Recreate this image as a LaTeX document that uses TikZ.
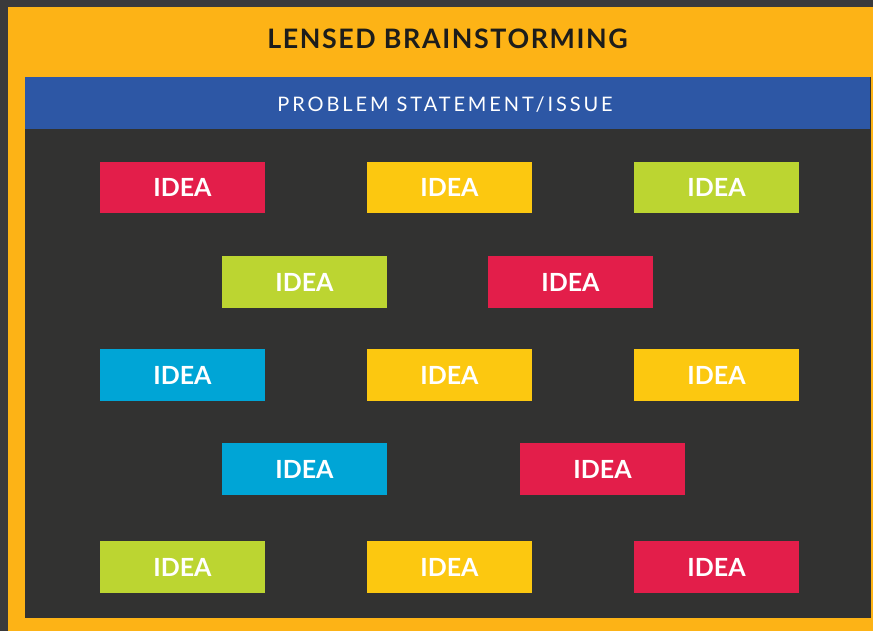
\documentclass[tikz,border=0pt]{standalone}
\usepackage{fontspec}
\setmainfont{Lato}
\newfontfamily\titlefont[LetterSpace=6]{Lato Bold}
\newfontfamily\ideafont{Lato Bold}
\newfontfamily\spaced[LetterSpace=14.5]{Lato}
\definecolor{outerbg}{HTML}{3A3A3C}
\definecolor{frameorange}{HTML}{FDB316}
\definecolor{barblue}{HTML}{2D57A5}
\definecolor{panel}{HTML}{323231}
\definecolor{ired}{HTML}{E31E4A}
\definecolor{iyellow}{HTML}{FCC810}
\definecolor{igreen}{HTML}{BCD531}
\definecolor{iblue}{HTML}{00A5D6}
\definecolor{titleink}{HTML}{1D1D1B}
\tikzset{
  ideabox/.style={fill=#1, draw=none, minimum width=165pt, minimum height=51.5pt,
    inner sep=0pt, text=white, font=\ideafont\fontsize{25}{25}\selectfont, anchor=center},
}
\begin{document}
\begin{tikzpicture}[x=1pt,y=-1pt]
\useasboundingbox (0,0) rectangle (873,631);
\fill[outerbg] (0,0) rectangle (873,631);
\fill[frameorange] (8,7) rectangle (873,631);
\fill[panel] (25,77) rectangle (871,618);
\fill[barblue] (25,77) rectangle (870,129);
\node[text=titleink, font=\titlefont\fontsize{26.8}{26.8}\selectfont, anchor=center, inner sep=0pt] (title) at (447.5,39) {LENSED BRAINSTORMING};
\node[text=white, font=\spaced\fontsize{20}{20}\selectfont, anchor=center, inner sep=0pt] (problem) at (445,104.5) {PROBLEM STATEMENT/ISSUE};
% row 1
\node[ideabox=ired] (i11) at (182.5,187.5) {IDEA};
\node[ideabox=iyellow] (i12) at (449.5,187.5) {IDEA};
\node[ideabox=igreen] (i13) at (716.5,187.5) {IDEA};
% row 2
\node[ideabox=igreen] (i21) at (304.5,282) {IDEA};
\node[ideabox=ired] (i22) at (570.5,282) {IDEA};
% row 3
\node[ideabox=iblue] (i31) at (182.5,375) {IDEA};
\node[ideabox=iyellow] (i32) at (449.5,375) {IDEA};
\node[ideabox=iyellow] (i33) at (716.5,375) {IDEA};
% row 4
\node[ideabox=iblue] (i41) at (304.5,469) {IDEA};
\node[ideabox=ired] (i42) at (602.5,469) {IDEA};
% row 5
\node[ideabox=igreen] (i51) at (182.5,567) {IDEA};
\node[ideabox=iyellow] (i52) at (449.5,567) {IDEA};
\node[ideabox=ired] (i53) at (716.5,567) {IDEA};
\end{tikzpicture}
\end{document}
